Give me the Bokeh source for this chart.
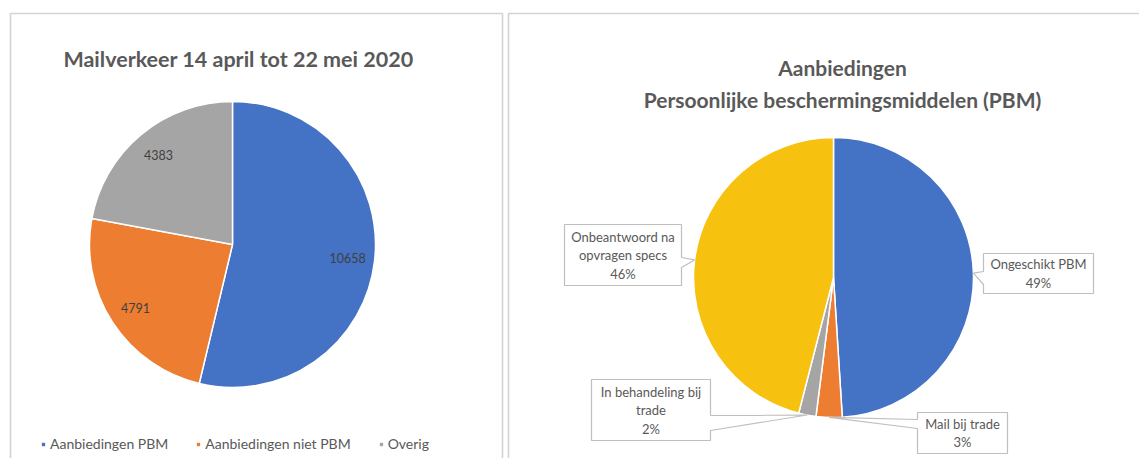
import math
from bokeh.plotting import figure
from bokeh.models import Range1d, Label, Legend, LegendItem
from bokeh.core.properties import value
from bokeh.embed import file_html
from bokeh.resources import INLINE

# ---------------- data ----------------
mail_title = "Mailverkeer 14 april tot 22 mei 2020"
mail_categories = ["Aanbiedingen PBM", "Aanbiedingen niet PBM", "Overig"]
mail_values = [10658, 4791, 4383]
mail_colors = ["#4472C4", "#ED7D31", "#A5A5A5"]

pbm_title = ["Aanbiedingen", "Persoonlijke beschermingsmiddelen (PBM)"]
pbm_categories = ["Ongeschikt PBM", "Mail bij trade", "In behandeling bij trade",
                  "Onbeantwoord na opvragen specs"]
pbm_label_lines = [["Ongeschikt PBM"], ["Mail bij trade"], ["In behandeling bij", "trade"],
                   ["Onbeantwoord na", "opvragen specs"]]
pbm_percent = [49, 3, 2, 46]
pbm_colors = ["#4472C4", "#ED7D31", "#A5A5A5", "#F7C10F"]

# ---------------- layout ----------------
W, H = 1139, 458
FONT = "Lato"
TXT = "#595959"


def Y(y_img):
    return H - y_img


p = figure(width=W, height=H, output_backend="svg", toolbar_location=None,
           x_range=Range1d(0, W), y_range=Range1d(0, H),
           min_border=0, outline_line_color=None, background_fill_color="white")
p.axis.visible = False
p.grid.visible = False

# panel borders
p.multi_line(xs=[[10, 10, 502, 502], [508, 508, 1160]],
             ys=[[Y(480), Y(13), Y(13), Y(480)], [Y(480), Y(13), Y(13)]],
             line_color="#d4d4d4", line_width=1.6)


def wedges(values):
    total = float(sum(values))
    starts, ends, mids = [], [], []
    acc = 0.0
    for v in values:
        s = acc / total * 2 * math.pi
        acc += v
        e = acc / total * 2 * math.pi
        # clockwise from 12 o'clock -> bokeh anticlockwise from +x
        starts.append(math.pi / 2 - e)
        ends.append(math.pi / 2 - s)
        mids.append((s + e) / 2)
    return starts, ends, mids


# ---------------- left pie ----------------
LCX, LCY, LR = 232, 244, 143
ls, le, lm = wedges(mail_values)
rends = []
for i in range(len(mail_values)):
    r = p.wedge(x=LCX, y=Y(LCY), radius=LR, start_angle=ls[i], end_angle=le[i],
                fill_color=mail_colors[i], line_color="white", line_width=1.5)
    rends.append(r)

lab_x = [LCX + 0.81 * LR * math.sin(m) for m in lm]
lab_y = [Y(LCY - 0.81 * LR * math.cos(m)) for m in lm]
p.text(x=lab_x, y=lab_y, text=[str(v) for v in mail_values],
       text_font=value(FONT), text_font_size="12.5px", text_color="#404040",
       text_align="center", text_baseline="middle")

p.add_layout(Label(x=238, y=Y(58), text=mail_title, text_font=FONT, text_font_style="bold",
                   text_font_size="21.5px", text_color=TXT, text_align="center",
                   text_baseline="middle"))

legend = Legend(items=[LegendItem(label=c, renderers=[r]) for c, r in zip(mail_categories, rends)],
                orientation="horizontal", location=(40, 6),
                glyph_width=6, glyph_height=6, label_standoff=4, spacing=27,
                padding=0, margin=0, border_line_color=None, background_fill_alpha=0,
                label_text_font=FONT, label_text_font_size="14px", label_text_color=TXT,
                label_height=16)
p.add_layout(legend)

# ---------------- right pie ----------------
RCX, RCY, RR = 833, 277, 140
rs, re_, rm = wedges(pbm_percent)
for i in range(len(pbm_percent)):
    p.wedge(x=RCX, y=Y(RCY), radius=RR, start_angle=rs[i], end_angle=re_[i],
            fill_color=pbm_colors[i], line_color="white", line_width=1.5)

p.add_layout(Label(x=842, y=Y(67), text=pbm_title[0], text_font=FONT, text_font_style="bold",
                   text_font_size="21px", text_color=TXT, text_align="center",
                   text_baseline="middle"))
p.add_layout(Label(x=842, y=Y(99), text=pbm_title[1], text_font=FONT, text_font_style="bold",
                   text_font_size="21px", text_color=TXT, text_align="center",
                   text_baseline="middle"))

# callout boxes (image pixel geometry): x0, x1, y0, y1, pointer side, pointer base y0, y1
boxes = [
    (983, 1093, 253, 293, "left", 271, 284),
    (917, 1007, 412, 453, "left", 419, 428),
    (591, 710, 379, 440, "right", 415, 430),
    (564, 681, 224, 285, "right", 257, 267),
]
px, py = [], []
tx, ty, tt = [], [], []
LS = 18.5
for i, (x0, x1, y0, y1, side, b0, b1) in enumerate(boxes):
    tipx = RCX + RR * math.sin(rm[i])
    tipy = RCY - RR * math.cos(rm[i])
    if side == "right":
        pts = [(x0, y0), (x1, y0), (x1, b0), (tipx, tipy), (x1, b1), (x1, y1), (x0, y1)]
    else:
        pts = [(x0, y0), (x1, y0), (x1, y1), (x0, y1), (x0, b1), (tipx, tipy), (x0, b0)]
    px.append([q[0] for q in pts])
    py.append([Y(q[1]) for q in pts])
    lines = pbm_label_lines[i] + [f"{pbm_percent[i]}%"]
    cy = (y0 + y1) / 2
    n = len(lines)
    for k, t in enumerate(lines):
        tx.append((x0 + x1) / 2)
        ty.append(Y(cy + (k - (n - 1) / 2) * LS))
        tt.append(t)

p.patches(xs=px, ys=py, fill_color="white", line_color="#bfbfbf", line_width=1.2)
p.text(x=tx, y=ty, text=tt, text_font=value(FONT), text_font_size="13px",
       text_color=TXT, text_align="center", text_baseline="middle")

open("out.html", "w").write(file_html(p, INLINE))
